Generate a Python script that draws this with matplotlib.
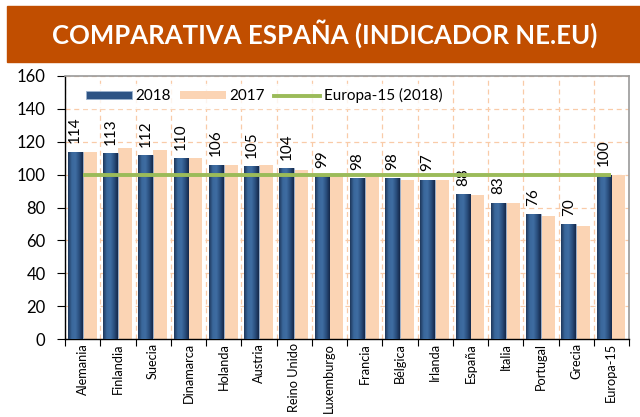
import numpy as np
import matplotlib
matplotlib.use("Agg")
import matplotlib.pyplot as plt
from matplotlib.patches import Rectangle
from matplotlib.colors import LinearSegmentedColormap
from matplotlib.lines import Line2D

categories = ["Alemania", "Finlandia", "Suecia", "Dinamarca", "Holanda", "Austria",
              "Reino Unido", "Luxemburgo", "Francia", "Bélgica", "Irlanda", "España",
              "Italia", "Portugal", "Grecia", "Europa-15"]
v2018 = [114, 113, 112, 110, 106, 105, 104, 99, 98, 98, 97, 88, 83, 76, 70, 100]
v2017 = [113.5, 116, 115, 110, 106, 106, 103, 99, 99, 97, 97, 87.5, 82.5, 75, 68.5, 100]
europa15 = [100] * len(categories)
yticks = [0, 20, 40, 60, 80, 100, 120, 140, 160]
title = "COMPARATIVA ESPAÑA (INDICADOR NE.EU)"

FONT = "Lato"
plt.rcParams['font.family'] = [FONT, 'DejaVu Sans']

W, H = 640, 417
fig = plt.figure(figsize=(W / 100, H / 100), dpi=100)

# Title banner
fig.patches.append(Rectangle((7 / W, 1 - 62 / H), (640 - 7) / W, (62 - 6) / H,
                             transform=fig.transFigure, color="#C14E00", zorder=0))
fig.text(325 / W, 1 - 34 / H, title, color="white", fontsize=18.5, fontweight="bold",
         ha="center", va="center", family=FONT)

ax = fig.add_axes([65 / W, 1 - 339 / H, (629 - 65) / W, (339 - 76) / H])
x = np.arange(len(categories))
bw18, bw17 = 0.42, 0.40
off18, off17 = -0.21, 0.20

bars17 = ax.bar(x + off17, v2017, width=bw17, color="#FBD4B4", zorder=2, label="2017")
bars18 = ax.bar(x + off18, v2018, width=bw18, color="#2E5485", edgecolor="#9db3cf",
                linewidth=0.6, zorder=3, label="2018")

cmap = LinearSegmentedColormap.from_list("cyl", ["#1e375a", "#3a679b", "#3f6da2", "#2a4f7e", "#15284a"])
grad = np.linspace(0, 1, 64).reshape(1, -1)
for b in bars18:
    x0, w, h = b.get_x(), b.get_width(), b.get_height()
    im = ax.imshow(grad, extent=[x0, x0 + w, 0, h], aspect="auto", cmap=cmap,
                   zorder=3.1, interpolation="bilinear")
    im.set_clip_path(b)

ax.plot(x, europa15, color="#9BBB59", linewidth=2.8, zorder=4, solid_capstyle="butt")

for xi, v in zip(x, v2018):
    ax.annotate(f"{v:g}", (xi + off18, v), xytext=(0, 6), textcoords="offset points",
                rotation=90, ha="center", va="bottom", fontsize=11, color="black")

ax.set_xlim(-0.5, len(categories) - 0.5)
ax.set_ylim(0, 160)
ax.set_yticks(yticks)
ax.set_yticklabels([str(t) for t in yticks], fontsize=12)
ax.set_xticks(np.arange(len(categories) + 1) - 0.5)
ax.set_xticklabels([])
ax.set_xticks(x, minor=True)
ax.set_xticklabels(categories, minor=True, rotation=90, fontsize=9.2)
ax.tick_params(axis="x", which="minor", length=0, pad=3)
ax.tick_params(axis="x", which="major", length=5, direction="out", color="black")
ax.tick_params(axis="y", length=6, direction="out", pad=8)

ax.grid(True, which="major", color="#F9CBA8", linestyle=(0, (4, 3)), linewidth=0.9, zorder=0)
ax.set_axisbelow(True)
for s in ["top", "right"]:
    ax.spines[s].set_color("#9a9a9a")
    ax.spines[s].set_linewidth(1.2)
for s in ["left", "bottom"]:
    ax.spines[s].set_color("black")
    ax.spines[s].set_linewidth(1.0)

handles = [Rectangle((0, 0), 1, 1, facecolor="#2E5485", edgecolor="#9db3cf", linewidth=0.6),
           Rectangle((0, 0), 1, 1, facecolor="#FBD4B4", edgecolor="none"),
           Line2D([0], [0], color="#9BBB59", linewidth=2.8)]
leg = ax.legend(handles, ["2018", "2017", "Europa-15 (2018)"], ncol=3, loc="upper left",
                bbox_to_anchor=(0.015, 1.0), frameon=True, fontsize=11,
                handlelength=3.0, handleheight=0.45, handletextpad=0.25, columnspacing=0.6,
                borderpad=0.3, fancybox=False)
leg.get_frame().set_facecolor("white")
leg.get_frame().set_edgecolor("white")
leg.set_zorder(5)

fig.savefig("out.png", dpi=100)
